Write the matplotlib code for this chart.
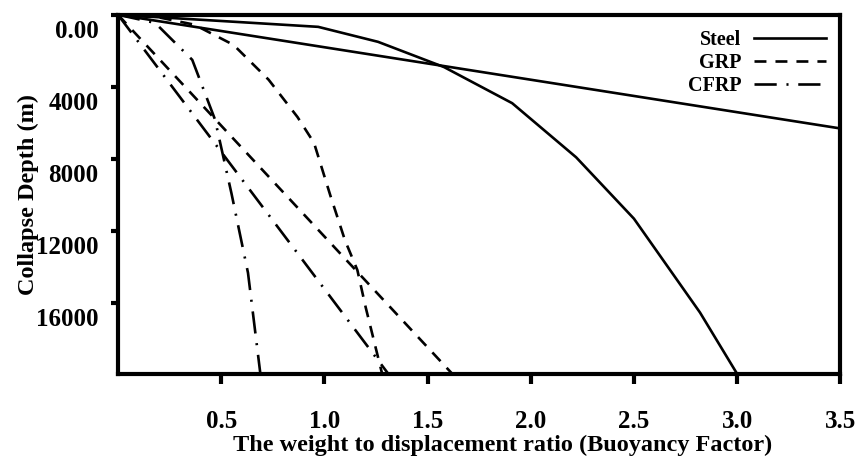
import matplotlib
matplotlib.use("Agg")
import matplotlib.pyplot as plt
from matplotlib.transforms import ScaledTranslation

plt.rcParams['font.family'] = ['Liberation Serif', 'DejaVu Serif']
plt.rcParams['font.weight'] = 'bold'
plt.rcParams['axes.labelweight'] = 'bold'
plt.rcParams['lines.scale_dashes'] = False

# buoyancy factor vs collapse depth
steel_curve_ratio = [0.0, 0.97, 1.26, 1.58, 1.91, 2.22, 2.50, 2.82, 3.0]
steel_curve_depth = [0, 670, 1500, 2900, 4900, 7900, 11300, 16500, 19900]
steel_line_ratio = [0.0, 3.5]
steel_line_depth = [0, 6300]

grp_curve_ratio = [0.0, 0.2, 0.37, 0.56, 0.73, 0.87, 0.95, 1.03, 1.10, 1.16, 1.20, 1.28]
grp_curve_depth = [0, 150, 550, 1670, 3600, 5670, 7100, 10050, 12500, 14150, 16200, 19900]
grp_line_ratio = [0.0, 1.62]
grp_line_depth = [0, 19900]

cfrp_curve_ratio = [0.0, 0.18, 0.36, 0.47, 0.55, 0.63, 0.69]
cfrp_curve_depth = [0, 450, 2500, 5800, 9900, 14300, 19900]
cfrp_line_ratio = [0.0, 1.31]
cfrp_line_depth = [0, 19900]

xticks = [0.5, 1.0, 1.5, 2.0, 2.5, 3.0, 3.5]
yticks = [0, 4000, 8000, 12000, 16000]
ytick_labels = ['0.00', '4000', '8000', '12000', '16000']

LW = 1.9
DASH = (0, (8.6, 6.5))
DASHDOT = (0, (16, 7, 1.5, 7))

fig = plt.figure(figsize=(8.61, 4.61), dpi=100)
ax = fig.add_axes([0.137, 0.189, 0.839, 0.779])

ax.plot(steel_curve_ratio, steel_curve_depth, color='black', lw=LW, label='Steel')
ax.plot(steel_line_ratio, steel_line_depth, color='black', lw=LW)
ax.plot(grp_curve_ratio, grp_curve_depth, color='black', lw=LW, linestyle=DASH, label='GRP')
ax.plot(grp_line_ratio, grp_line_depth, color='black', lw=LW, linestyle=DASH)
ax.plot(cfrp_curve_ratio, cfrp_curve_depth, color='black', lw=LW, linestyle=DASHDOT, label='CFRP')
ax.plot(cfrp_line_ratio, cfrp_line_depth, color='black', lw=LW, linestyle=DASHDOT)

ax.set_xlim(0, 3.5)
ax.set_ylim(19900, 0)
ax.set_xticks(xticks)
ax.set_xticklabels([f'{t:.1f}' for t in xticks])
ax.set_yticks(yticks)
ax.set_yticklabels(ytick_labels)

for s in ax.spines.values():
    s.set_linewidth(3)
ax.tick_params(axis='x', direction='out', length=7, width=3, pad=19, labelsize=18)
ax.tick_params(axis='y', direction='out', length=5, width=3, pad=9, labelsize=18)

# y tick labels sit a little below their ticks
shift = ScaledTranslation(0, -0.14, fig.dpi_scale_trans)
for lab in ax.get_yticklabels():
    lab.set_transform(lab.get_transform() + shift)

ax.set_xlabel('The weight to displacement ratio (Buoyancy Factor)', fontsize=17.5,
              labelpad=1, x=0.533)
ax.set_ylabel('Collapse Depth (m)', fontsize=17.5, labelpad=-2)

ax.legend(loc='upper right', frameon=False, markerfirst=False, fontsize=14.5,
          handlelength=3.6, handletextpad=0.6, labelspacing=0.15,
          borderaxespad=0.3, bbox_to_anchor=(1.0, 0.998))

fig.savefig('out.png', dpi=100)
